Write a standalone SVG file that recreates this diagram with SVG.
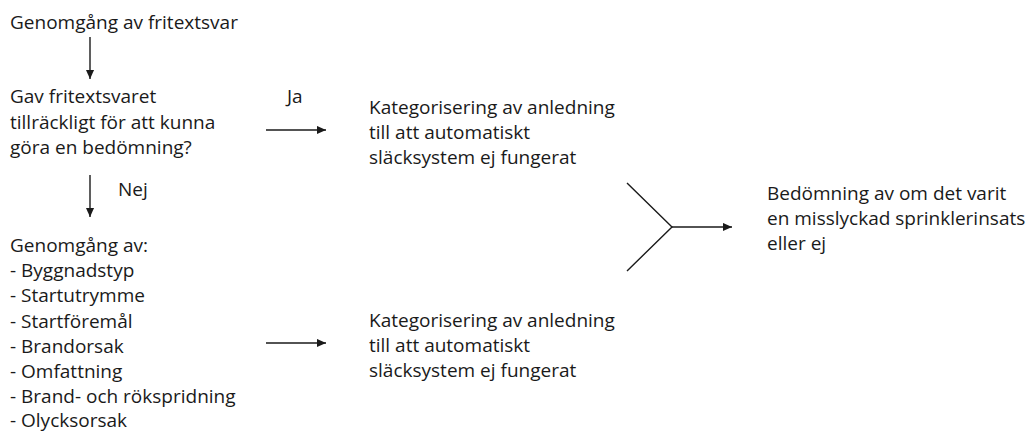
<svg xmlns="http://www.w3.org/2000/svg" width="1028" height="432" viewBox="0 0 1028 432">
<style>
text{font-family:"Open Sans","Noto Sans","Liberation Sans",sans-serif;font-size:19px;fill:#1a1a1a}
.c{stroke:#1a1a1a;stroke-width:1.4;fill:none}
</style>
<defs>
<marker id="ah" viewBox="0 0 10 10" refX="10" refY="5" markerWidth="9" markerHeight="9" markerUnits="userSpaceOnUse" orient="auto">
<path d="M0,0.5 L10,5 L0,9.5 Z" fill="#1a1a1a"/>
</marker>
</defs>
<rect width="1028" height="432" fill="#fff"/>
<g id="n1"><text x="10" y="29">Genomgång av fritextsvar</text></g>
<g id="n2"><text x="10" y="103">Gav fritextsvaret</text><text x="10" y="129">tillräckligt för att kunna</text><text x="10" y="154">göra en bedömning?</text></g>
<g id="n3"><text x="10" y="252">Genomgång av:</text><text x="10" y="277.2">- Byggnadstyp</text><text x="10" y="302.4">- Startutrymme</text><text x="10" y="327.6">- Startföremål</text><text x="10" y="352.8">- Brandorsak</text><text x="10" y="378">- Omfattning</text><text x="10" y="403.2">- Brand- och rökspridning</text><text x="10" y="427.4">- Olycksorsak</text></g>
<g id="n4"><text x="369" y="114">Kategorisering av anledning</text><text x="369" y="139">till att automatiskt</text><text x="369" y="163.5">släcksystem ej fungerat</text></g>
<g id="n5"><text x="369" y="327">Kategorisering av anledning</text><text x="369" y="352">till att automatiskt</text><text x="369" y="376.5">släcksystem ej fungerat</text></g>
<g id="n6"><text x="767" y="200">Bedömning av om det varit</text><text x="767" y="225">en misslyckad sprinklerinsats</text><text x="767" y="250">eller ej</text></g>
<g id="connectors">
<line class="c" x1="90" y1="37" x2="90" y2="79" marker-end="url(#ah)"/>
<line class="c" x1="90" y1="175" x2="90" y2="217" marker-end="url(#ah)"/>
<text x="118" y="196">Nej</text>
<line class="c" x1="266" y1="130" x2="326" y2="130" marker-end="url(#ah)"/>
<text x="287" y="103">Ja</text>
<line class="c" x1="266" y1="343" x2="326" y2="343" marker-end="url(#ah)"/>
<polyline class="c" points="627,183 672,227 627,271"/>
<line class="c" x1="672" y1="227" x2="732" y2="227" marker-end="url(#ah)"/>
</g>
</svg>
